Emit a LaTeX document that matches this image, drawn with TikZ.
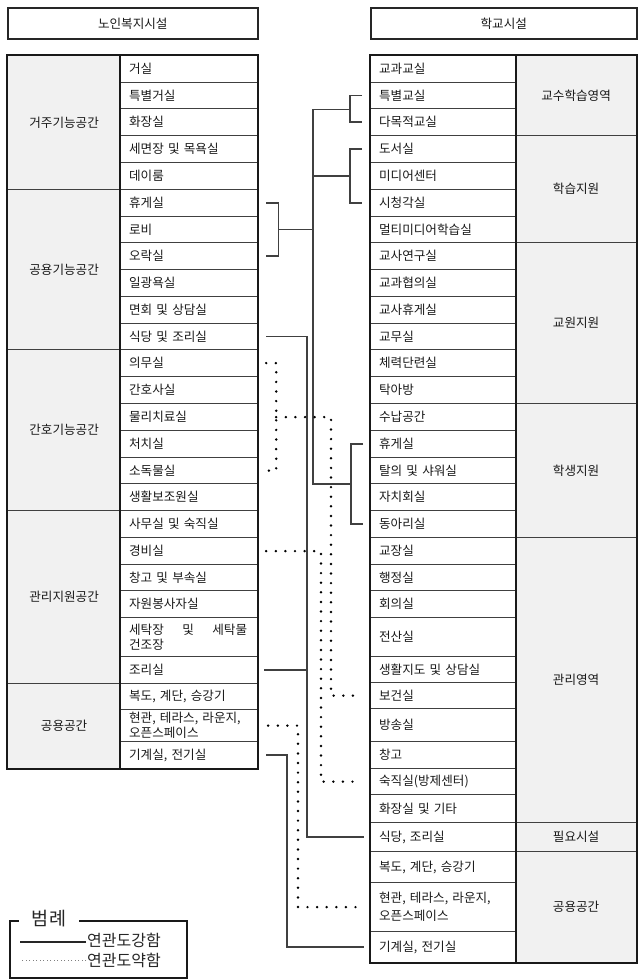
\documentclass[tikz,border=0pt]{standalone}
\usepackage{fontspec}
\setmainfont{Noto Sans CJK KR}[WordSpace=2.4]
\usetikzlibrary{calc}

\tikzset{
    cell/.style={draw=black!75, line width=1.2pt, anchor=north west, inner xsep=8.5pt, inner ysep=0pt, align=left, font=\fontsize{12.6}{15}\selectfont, text=black!90},
    lcell/.style={cell, text width=120pt},
    rcell/.style={cell, text width=128pt},
    grp/.style={draw=black!75, line width=1.2pt, fill=gray!11, anchor=north west, inner sep=0pt, font=\fontsize{12.6}{15}\selectfont, text=black!90},
    heading/.style={draw=black!85, line width=1.6pt, anchor=north west, inner sep=0pt, font=\fontsize{12.6}{15}\selectfont, text=black!90},
    frame/.style={draw=black!90, line width=1.7pt},
    strong/.style={draw=black!75, line width=1.3pt},
    weak/.style={draw=black, line width=2.7pt, line cap=round, dash pattern=on 0pt off 9.6pt},
}

\begin{document}
\begin{tikzpicture}[x=1pt, y=-1pt]
    \useasboundingbox (0,0) rectangle (637,979);

    % titles
    \node[heading, minimum width=250pt, minimum height=31pt] (lhead) at (7,7) {노인복지시설};
    \node[heading, minimum width=266pt, minimum height=31pt] (rhead) at (370,7) {학교시설};

    % left table
    \foreach \n/\ya/\yb/\txt in {1/55/189/거주기능공간, 2/189/349/공용기능공간, 3/349/510/간호기능공간,
        4/510/683/관리지원공간, 5/683/768/공용공간}
        \node[grp, minimum width=113pt, minimum height={(\yb-\ya)*1pt}] (LG\n) at (7,\ya) {\txt};

    \foreach \n/\ya/\yb/\txt in {1/55/82/거실, 2/82/108/특별거실, 3/108/135/화장실, 4/135/162/세면장 및 목욕실,
        5/162/189/데이룸, 6/189/216/휴게실, 7/216/242/로비, 8/242/269/오락실, 9/269/296/일광욕실,
        10/296/323/면회 및 상담실, 11/323/349/식당 및 조리실, 12/349/376/의무실, 13/376/403/간호사실,
        14/403/430/물리치료실, 15/430/457/처치실, 16/457/483/소독물실, 17/483/510/생활보조원실,
        18/510/537/사무실 및 숙직실, 19/537/564/경비실, 20/564/590/창고 및 부속실, 21/590/617/자원봉사자실,
        22/617/656/{\makebox[118pt][l]{세탁장\hfill 및\hfill 세탁물}\\건조장}, 23/656/683/조리실,
        24/683/709/{복도, 계단, 승강기}, 25/709/741/{현관, 테라스, 라운지,\\오픈스페이스}, 26/741/768/{기계실, 전기실}}
        \node[lcell, minimum height={(\yb-\ya)*1pt}] (L\n) at (120,\ya) {\txt};

    \draw[frame] (LG1.north west) rectangle (L26.south east);
    \draw[frame] (L1.north west) -- (L26.south west);

    % right table
    \foreach \n/\ya/\yb/\txt in {1/55/135/교수학습영역, 2/135/242/학습지원, 3/242/403/교원지원, 4/403/537/학생지원,
        5/537/822/관리영역, 6/822/851/필요시설, 7/851/962/공용공간}
        \node[grp, minimum width=121pt, minimum height={(\yb-\ya)*1pt}] (RG\n) at (515,\ya) {\txt};

    \foreach \n/\ya/\yb/\txt in {1/55/82/교과교실, 2/82/108/특별교실, 3/108/135/다목적교실, 4/135/162/도서실,
        5/162/189/미디어센터, 6/189/216/시청각실, 7/216/242/멀티미디어학습실, 8/242/269/교사연구실,
        9/269/296/교과협의실, 10/296/323/교사휴게실, 11/323/349/교무실, 12/349/376/체력단련실,
        13/376/403/탁아방, 14/403/430/수납공간, 15/430/457/휴게실, 16/457/483/탈의 및 샤워실,
        17/483/510/자치회실, 18/510/537/동아리실, 19/537/564/교장실, 20/564/590/행정실, 21/590/617/회의실,
        22/617/656/전산실, 23/656/682/생활지도 및 상담실, 24/682/708/보건실, 25/708/741/방송실,
        26/741/768/창고, 27/768/794/숙직실(방제센터), 28/794/822/화장실 및 기타, 29/822/851/{식당, 조리실},
        30/851/882/{복도, 계단, 승강기}, 31/882/931/{현관, 테라스, 라운지,\\[3pt]오픈스페이스}, 32/931/962/{기계실, 전기실}}
        \node[rcell, minimum height={(\yb-\ya)*1pt}] (R\n) at (370,\ya) {\txt};

    \draw[frame] (R1.north west) rectangle (RG7.south east);
    \draw[frame] (R1.north east) -- (R32.south east);

    % lanes between the tables
    \coordinate (trunk) at (313,0);
    \coordinate (dine) at (307,0);
    \coordinate (mech) at (287,0);
    \coordinate (care) at (331,0);
    \coordinate (guard) at (321,0);
    \coordinate (entry) at (298,0);
    \coordinate (mid3) at ($(R15.west)!.5!(R18.west)$);

    % strong links
    \draw[strong] ([xshift=8pt]L6.east) -- ++(12pt,0) |- ([xshift=8pt]L8.east);
    \draw[strong] ([xshift=20pt]L7.east) -- (trunk |- L7.east);
    \draw[strong] ([xshift=-8pt]R2.west) -- ++(-12pt,0) |- ([xshift=-8pt]R3.west);
    \draw[strong] ([xshift=-8pt]R4.west) -- ++(-12pt,0) |- ([xshift=-8pt]R6.west);
    \draw[strong] ([xshift=-7pt]R15.west) -- ++(-12pt,0) |- ([xshift=-7pt]R18.west);
    \draw[strong] ([xshift=-20pt]R2.south west) -- (trunk |- R2.south west) -- (trunk |- mid3) -- ([xshift=-19pt]mid3);
    \draw[strong] ([xshift=-20pt]R5.west) -- (trunk |- R5.west);
    \draw[strong] ([xshift=8pt]L11.east) -| (dine |- R29.west) -- ([xshift=-6pt]R29.west);
    \draw[strong] ([xshift=6pt]L23.east) -- (dine |- L23.east);
    \draw[strong] ([xshift=8pt]L26.east) -| (mech |- R32.west) -- ([xshift=-6pt]R32.west);

    % weak links
    \draw[weak] ([xshift=8pt]L12.east) -- ++(10pt,0) |- ([xshift=8pt]L16.east);
    \draw[weak] ([xshift=18pt]L14.east) -| (care |- R24.west) -- ([xshift=-10pt]R24.west);
    \draw[weak] ([xshift=8pt]L19.east) -| (guard |- R27.west) -- ([xshift=-10pt]R27.west);
    \draw[weak] ([xshift=10pt]L25.east) -| (entry |- R31.west) -- ([xshift=-8pt]R31.west);

    % legend
    \draw[draw=black!90, line width=1.9pt] (10,921) rectangle (187,978);
    \node[fill=white, inner xsep=13pt, inner ysep=2pt, font=\fontsize{18.5}{20}\selectfont, text=black!85] (legendtitle) at (49,919) {범례};
    \node[anchor=west, inner sep=1pt, font=\fontsize{16}{18}\selectfont, text=black!85] (strongkey) at (86,940) {연관도강함};
    \node[anchor=west, inner sep=1pt, font=\fontsize{16}{18}\selectfont, text=black!85] (weakkey) at (86,960) {연관도약함};
    \draw[black!85, line width=1.3pt] ([yshift=-2pt]strongkey.west) -- ++(-66pt,0);
    \draw[gray, line width=0.9pt, dash pattern=on 0.9pt off 2.6pt] (weakkey.west) -- ++(-66pt,0);
\end{tikzpicture}
\end{document}
